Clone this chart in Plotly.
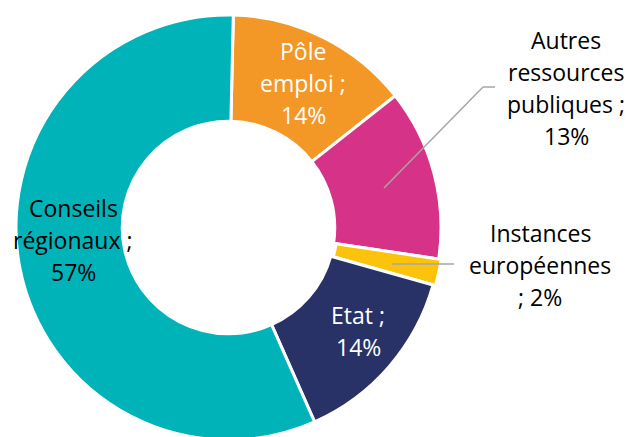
import plotly.graph_objects as go

categories = ["Pôle emploi", "Autres ressources publiques", "Instances européennes", "Etat", "Conseils régionaux"]
values = [14, 13, 2, 14, 57]
label_lines = [["Pôle", "emploi ;", "14%"],
               ["Autres", "ressources", "publiques ;", "13%"],
               ["Instances", "européennes", "; 2%"],
               ["Etat ;", "14%"],
               ["Conseils", "régionaux ;", "57%"]]
colors = ["#F39727", "#D63287", "#FBC30C", "#283266", "#00B3B9"]
text_colors = ["white", "black", "black", "white", "black"]
pulls = [0, 0, 0.012, 0, 0]

W, H = 630, 444  # page taller than window; bottom is cropped like the reference
CX, CY, R = 228.5, 227.5, 212.5
RB = R * (1 + max(pulls))
LINE = 32.3
# label centres in pixels (layout positions)
label_pos = [(303, 83), (566, 88), (540, 265), (358, 331), (73, 240)]

fig = go.Figure(go.Pie(
    labels=categories, values=values, sort=False, direction="clockwise",
    rotation=1.3, hole=0.5, textinfo="none", hoverinfo="label+percent",
    pull=pulls,
    marker=dict(colors=colors, line=dict(color="white", width=3)),
    domain=dict(x=[(CX - RB) / W, (CX + RB) / W],
                y=[(H - CY - RB) / H, (H - CY + RB) / H]),
    showlegend=False,
))

for lines, col, (px, py) in zip(label_lines, text_colors, label_pos):
    n = len(lines)
    for i, ln in enumerate(lines):
        ly = py + (i - (n - 1) / 2) * LINE
        fig.add_annotation(x=px / W, y=1 - ly / H, xref="paper", yref="paper",
                           text=ln, showarrow=False, xanchor="center", yanchor="middle",
                           align="center", font=dict(family="Open Sans", size=23, color=col))

def seg(p0, p1):
    fig.add_shape(type="line", xref="paper", yref="paper",
                  x0=p0[0] / W, y0=1 - p0[1] / H, x1=p1[0] / W, y1=1 - p1[1] / H,
                  line=dict(color="#A6A6A6", width=1.5))

seg((384, 188), (483, 87))
seg((483, 87), (495, 87))
seg((392, 264), (454, 264))

fig.update_layout(width=W, height=H, margin=dict(l=0, r=0, t=0, b=0),
                  paper_bgcolor="white", plot_bgcolor="white",
                  font=dict(family="Open Sans"))
fig.write_html("out.html", config={"displayModeBar": False},
               post_script="document.body.style.margin='0px';document.body.style.overflow='hidden';")
